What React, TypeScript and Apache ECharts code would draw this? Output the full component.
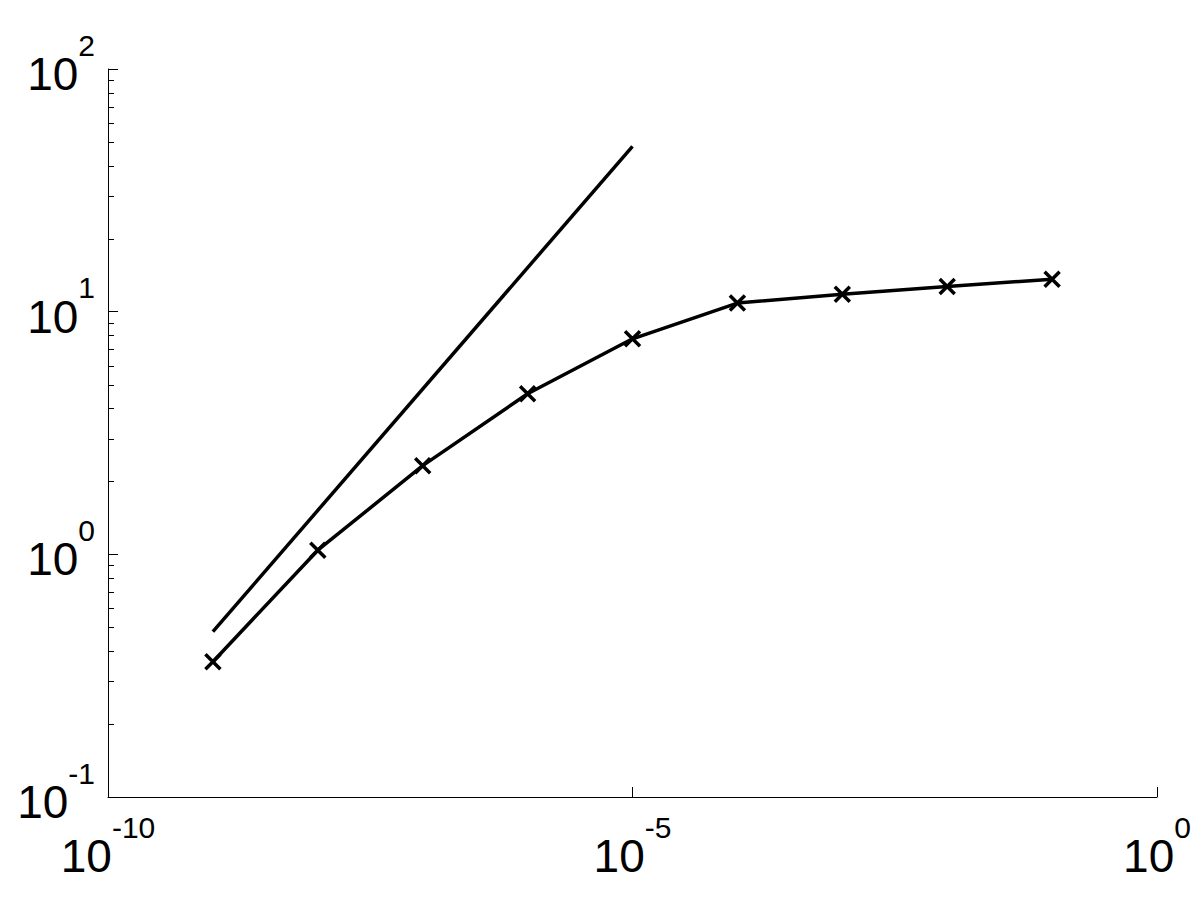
import React, { useEffect, useRef } from "react";
import * as echarts from "echarts";

// Data
const xValues = [1e-9, 1e-8, 1e-7, 1e-6, 1e-5, 1e-4, 1e-3, 1e-2, 1e-1];
const yValues = [0.361, 1.04, 2.32, 4.59, 7.73, 10.85, 11.8, 12.7, 13.6];
const refX = [1e-9, 1e-5];
const refY = [0.48, 48];

// Axis ranges (decades)
const xMinExp = -10;
const xMaxExp = 0;
const xStepExp = 5;
const yMinExp = -1;
const yMaxExp = 2;
const yStepExp = 1;
const minorMultipliers = [2, 3, 4, 5, 6, 7, 8, 9];

const FONT = "'Liberation Sans', Arial, Helvetica, sans-serif";

export default function App() {
  const ref = useRef<HTMLDivElement>(null);

  useEffect(() => {
    if (!ref.current) return;
    const chart = echarts.init(ref.current, undefined, { renderer: "svg" });

    const lg = (v: number) => Math.log10(v);
    const mainData = xValues.map((x, i) => [lg(x), lg(yValues[i])]);
    const refData = refX.map((x, i) => [lg(x), lg(refY[i])]);
    const minorData: number[][] = [];
    for (let e = yMinExp; e < yMaxExp; e++) {
      for (const m of minorMultipliers) minorData.push([xMinExp, lg(m * Math.pow(10, e))]);
    }

    const rich = {
      b: { fontSize: 46, lineHeight: 46, fontFamily: FONT, color: "#000", verticalAlign: "bottom", padding: [0, 0, 10, 0] },
      s: { fontSize: 30, lineHeight: 30, fontFamily: FONT, color: "#000", verticalAlign: "bottom", padding: [0, 0, 47, 0] },
    };
    const fmt = (v: number) => `{b|10}{s|${Math.round(v)}}`;

    const option: any = {
      animation: false,
      backgroundColor: "#fff",
      grid: { left: 108, top: 69, width: 1049, height: 728, containLabel: false },
      xAxis: {
        type: "value",
        min: xMinExp,
        max: xMaxExp,
        interval: xStepExp,
        axisLine: { show: true, onZero: false, lineStyle: { color: "#000", width: 1 } },
        axisTick: { show: true, inside: true, length: 10, lineStyle: { color: "#000", width: 1 } },
        splitLine: { show: false },
        axisLabel: { formatter: fmt, rich, margin: 46, showMinLabel: true, showMaxLabel: true },
      },
      yAxis: {
        type: "value",
        min: yMinExp,
        max: yMaxExp,
        interval: yStepExp,
        axisLine: { show: true, onZero: false, lineStyle: { color: "#000", width: 1 } },
        axisTick: { show: true, inside: true, length: 10, lineStyle: { color: "#000", width: 1 } },
        splitLine: { show: false },
        axisLabel: { formatter: fmt, rich, margin: 13, padding: [30, 0, 0, 0], showMinLabel: true, showMaxLabel: true },
      },
      series: [
        {
          type: "line",
          data: refData,
          showSymbol: false,
          symbol: "none",
          lineStyle: { color: "#000", width: 3.5 },
          silent: true,
        },
        {
          type: "line",
          data: mainData,
          symbol: "path://M0,0L10,10M10,0L0,10",
          symbolSize: 15,
          showAllSymbol: true,
          lineStyle: { color: "#000", width: 3.5 },
          itemStyle: { color: "#000", borderColor: "#000", borderWidth: 3.5 },
          silent: true,
          z: 3,
        },
        {
          type: "custom",
          data: minorData,
          silent: true,
          renderItem: (params: any, api: any) => {
            const p = api.coord([api.value(0), api.value(1)]);
            const y = Math.round(p[1]) + 0.5;
            return {
              type: "line",
              shape: { x1: p[0], y1: y, x2: p[0] + 6, y2: y },
              style: { stroke: "#000", lineWidth: 1 },
            };
          },
        },
      ],
    };

    chart.setOption(option);
    return () => chart.dispose();
  }, []);

  return (
    <div
      ref={ref}
      style={{ position: "fixed", left: 0, top: 0, width: 1200, height: 900, background: "#fff" }}
    />
  );
}
